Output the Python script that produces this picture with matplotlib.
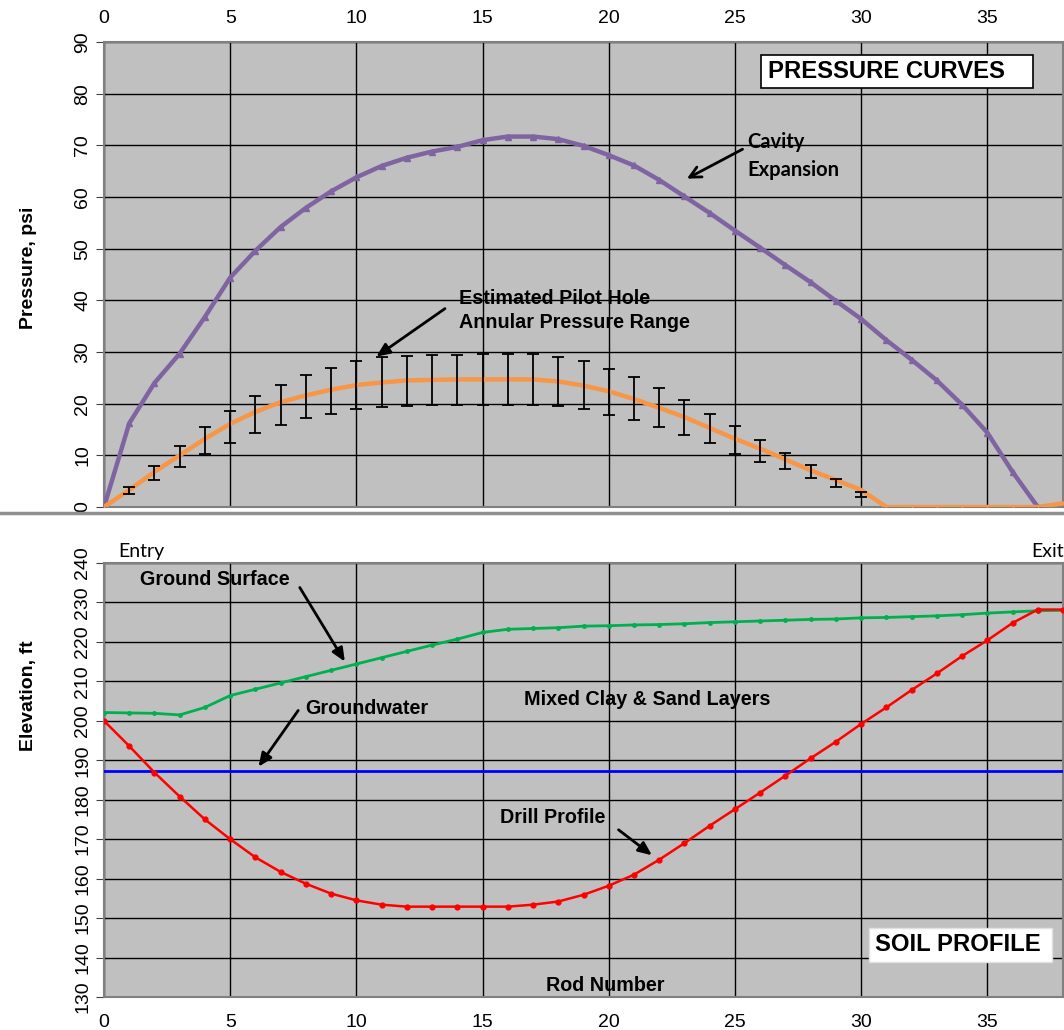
import matplotlib.pyplot as plt
from matplotlib.patches import Rectangle
from matplotlib.lines import Line2D

# rod numbers
rods = list(range(0, 39))

# top panel: pressure curves (psi)
cavity = [0, 16.2, 24.0, 29.7, 36.8, 44.4, 49.6, 54.2, 57.9, 61.1, 63.8, 66.0, 67.6, 68.8,
          69.7, 71.0, 71.7, 71.7, 71.2, 69.9, 68.1, 66.1, 63.3, 60.1, 56.9, 53.5, 50.2,
          46.8, 43.5, 39.9, 36.4, 32.3, 28.5, 24.5, 19.8, 14.4, 6.8, 0, 0]
annular = [0, 3.3, 6.8, 10.0, 13.2, 16.1, 18.4, 20.3, 21.6, 22.7, 23.6, 24.1, 24.5, 24.6,
           24.7, 24.7, 24.7, 24.7, 24.3, 23.5, 22.4, 20.9, 19.2, 17.4, 15.3, 13.2, 11.3,
           9.2, 7.1, 5.2, 3.3, 0, 0, 0, 0, 0, 0, 0, 0.7]
err_rods = list(range(1, 31))
err_hi = [3.9, 8.0, 11.8, 15.4, 18.5, 21.4, 23.6, 25.6, 27.0, 28.2, 29.1, 29.2, 29.4, 29.4,
          29.6, 29.6, 29.6, 29.0, 28.2, 26.8, 25.1, 23.0, 20.7, 18.0, 15.6, 13.0, 10.5,
          8.1, 5.5, 2.9]
err_lo = [2.6, 5.2, 7.8, 10.2, 12.4, 14.3, 15.8, 17.2, 18.0, 18.9, 19.3, 19.5, 19.7, 19.7,
          19.7, 19.8, 19.8, 19.5, 18.9, 17.9, 16.9, 15.5, 13.9, 12.3, 10.3, 8.7, 7.3,
          5.7, 3.8, 2.0]

# bottom panel: soil profile (ft)
ground = [202.1, 202.0, 201.9, 201.5, 203.4, 206.4, 208.0, 209.6, 211.2, 212.8, 214.4,
          216.0, 217.6, 219.2, 220.7, 222.4, 223.2, 223.4, 223.6, 224.0, 224.1, 224.3,
          224.4, 224.6, 224.9, 225.1, 225.3, 225.5, 225.7, 225.8, 226.1, 226.2, 226.4,
          226.6, 226.9, 227.3, 227.6, 227.9, 228.0]
drill = [200.0, 193.6, 186.9, 180.8, 175.0, 170.0, 165.4, 161.7, 158.7, 156.2, 154.5,
         153.4, 152.9, 152.9, 152.9, 152.9, 152.9, 153.4, 154.2, 155.9, 158.2, 161.0,
         164.8, 169.0, 173.4, 177.6, 181.8, 186.1, 190.5, 194.7, 199.2, 203.4, 207.8,
         212.0, 216.4, 220.4, 224.8, 228.2, 228.2]
groundwater = 187.4

plt.rcParams['font.family'] = ['Liberation Sans', 'DejaVu Sans']
LBL = 14.2     # bold annotation size
BOX = 17.2     # boxed titles
CAL = ['Lato', 'DejaVu Sans']

fig = plt.figure(figsize=(10.64, 10.30), dpi=100)
W, H = 1064, 1030
ax1 = fig.add_axes([104 / W, 1 - 507 / H, (1063 - 104) / W, (507 - 42) / H])
ax2 = fig.add_axes([104 / W, 1 - 997 / H, (1063 - 104) / W, (997 - 563) / H])

for ax in (ax1, ax2):
    ax.set_facecolor('#C0C0C0')
    ax.set_xlim(0, 38)
    ax.set_xticks(range(0, 40, 5))
    ax.grid(True, color='black', linewidth=1.0)
    ax.set_axisbelow(True)
    for s in ax.spines.values():
        s.set_color('#808080')
        s.set_linewidth(1.5)
    ax.tick_params(axis='x', length=0, labelsize=14, pad=12)
    ax.tick_params(axis='y', length=6, color='#404040', labelsize=14, labelrotation=90, pad=3)

# ---- top panel
ax1.set_ylim(0, 90)
ax1.set_yticks(range(0, 100, 10))
ax1.xaxis.tick_top()
ax1.tick_params(axis='x', pad=11)
ax1.plot(rods[:38], cavity[:38], color='#8064A2', linewidth=3.2, marker='^', markersize=4,
         zorder=3)
ax1.plot(rods, annular, color='#F79646', linewidth=3.2, marker='|', markersize=3, zorder=4)
centre = [(h + l) / 2 for h, l in zip(err_hi, err_lo)]
half = [(h - l) / 2 for h, l in zip(err_hi, err_lo)]
ax1.errorbar(err_rods, centre, yerr=half, fmt='none', ecolor='black', elinewidth=1.3,
             capsize=4, capthick=1.3, zorder=5)
ax1.set_ylabel('Pressure, psi', fontsize=14, fontweight='bold')
ax1.yaxis.set_label_coords(-0.07, 0.514)
for lab in ax1.get_yticklabels():
    lab.set_va('center')

ax1.add_patch(Rectangle((26.05, 81.1), 10.77, 6.4, facecolor='white', edgecolor='black',
                        linewidth=1.2, zorder=6))
ax1.text(26.3, 84.3, 'PRESSURE CURVES', fontsize=BOX, fontweight='bold', va='center',
         zorder=7)
ax1.text(25.5, 70.6, 'Cavity', family=CAL, fontsize=14.5, fontweight='bold', va='center')
ax1.text(25.5, 65.2, 'Expansion', family=CAL, fontsize=14.5, fontweight='bold',
         va='center')
ax1.annotate('', xy=(23.0, 63.3), xytext=(25.4, 69.5),
             arrowprops=dict(arrowstyle='->,head_length=0.8,head_width=0.4', color='black',
                             lw=2))
ax1.text(14.05, 40.4, 'Estimated Pilot Hole', fontsize=LBL, fontweight='bold', va='center')
ax1.text(14.05, 35.8, 'Annular Pressure Range', fontsize=LBL, fontweight='bold',
         va='center')
ax1.annotate('', xy=(10.7, 28.8), xytext=(13.6, 38.7),
             arrowprops=dict(arrowstyle='-|>,head_length=0.8,head_width=0.35',
                             color='black', lw=2))

# ---- bottom panel
ax2.set_ylim(130, 240)
ax2.set_yticks(range(130, 250, 10))
ax2.plot(rods, ground, color='#00B050', linewidth=2, marker='o', markersize=2.5, zorder=3)
ax2.plot(rods, drill, color='#FF0000', linewidth=1.8, marker='o', markersize=3.5, zorder=4)
ax2.axhline(groundwater, color='#0000FF', linewidth=2, zorder=3)
ax2.set_ylabel('Elevation, ft', fontsize=14, fontweight='bold')
ax2.yaxis.set_label_coords(-0.07, 0.694)
for lab in ax2.get_yticklabels():
    lab.set_va('center')

ax2.text(0.55, 243.0, 'Entry', family=CAL, fontsize=14, va='center', clip_on=False)
ax2.text(36.74, 243.0, 'Exit', family=CAL, fontsize=14, va='center', clip_on=False)
ax2.text(1.43, 235.7, 'Ground Surface', fontsize=LBL, fontweight='bold', va='center')
ax2.annotate('', xy=(9.6, 214.4), xytext=(7.7, 234.4),
             arrowprops=dict(arrowstyle='-|>,head_length=0.8,head_width=0.35',
                             color='black', lw=2))
ax2.text(7.96, 203.2, 'Groundwater', fontsize=LBL, fontweight='bold', va='center')
ax2.annotate('', xy=(6.06, 187.8), xytext=(7.76, 203.2),
             arrowprops=dict(arrowstyle='-|>,head_length=0.8,head_width=0.35',
                             color='black', lw=2))
ax2.text(16.63, 205.3, 'Mixed Clay & Sand Layers', fontsize=LBL, fontweight='bold',
         va='center')
ax2.text(15.68, 175.4, 'Drill Profile', fontsize=LBL, fontweight='bold', va='center')
ax2.annotate('', xy=(21.8, 165.5), xytext=(20.3, 172.8),
             arrowprops=dict(arrowstyle='-|>,head_length=0.8,head_width=0.35',
                             color='black', lw=2))
ax2.add_patch(Rectangle((30.32, 138.9), 7.25, 8.6, facecolor='white', edgecolor='#E0E0E0',
                        linewidth=1, zorder=6))
ax2.text(30.56, 143.2, 'SOIL PROFILE', fontsize=BOX, fontweight='bold', va='center',
         zorder=7)
ax2.text(17.5, 133.0, 'Rod Number', fontsize=LBL, fontweight='bold', va='center')

# separator between the two charts
fig.add_artist(Line2D([0, 1], [1 - 513 / H, 1 - 513 / H], color='#909090', linewidth=2.5))

fig.savefig('out.png', dpi=100)
